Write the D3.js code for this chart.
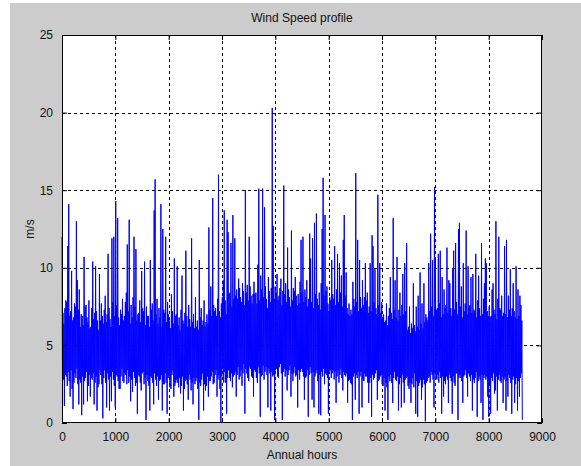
<!DOCTYPE html>
<html>
<head>
<meta charset="utf-8">
<script src="https://cdn.jsdelivr.net/npm/d3@7"></script>
<style>
  body { margin: 0; background: #fff; }
  text { font-family: "Liberation Sans", Arial, sans-serif; fill: #111; }
</style>
</head>
<body>
<script>
// wind record in 18-hour slots:
// highest and lowest reading inside each slot
var slotHours = 18;
var slotMax = [
  12.0, 7.1, 6.4, 7.4, 7.9, 7.8, 11.4, 14.1, 6.9, 7.2, 9.8, 6.6, 6.8, 7.7, 7.5, 13.0, 9.2, 7.3, 8.6, 6.2,
  7.0, 6.9, 6.3, 10.7, 7.5, 7.6, 6.8, 6.5, 7.9, 6.1, 6.2, 7.4, 10.4, 6.7, 7.1, 10.1, 7.2, 6.6, 6.0, 9.6,
  6.6, 7.7, 6.9, 6.4, 7.3, 8.2, 6.5, 7.0, 10.9, 7.4, 6.7, 6.2, 11.9, 7.8, 12.0, 6.9, 14.3, 7.6, 13.2, 6.8,
  6.3, 7.3, 7.0, 8.0, 6.6, 6.9, 7.8, 8.4, 11.5, 7.2, 13.1, 6.4, 7.6, 6.8, 8.1, 12.0, 7.5, 11.2, 6.6, 7.0,
  7.1, 7.9, 6.5, 9.8, 7.4, 7.2, 10.4, 6.3, 7.5, 6.9, 6.9, 6.2, 10.5, 7.3, 7.7, 6.6, 13.7, 15.7, 7.0, 8.0,
  6.4, 7.4, 6.8, 14.1, 6.2, 12.5, 7.3, 7.1, 12.0, 6.5, 7.8, 7.0, 6.6, 6.1, 8.3, 7.2, 6.4, 10.6, 6.9, 7.0,
  10.1, 6.3, 6.8, 6.0, 7.3, 9.5, 6.6, 6.4, 7.1, 11.1, 6.9, 6.2, 7.6, 6.7, 6.2, 11.9, 6.5, 7.0, 6.1, 8.1,
  6.2, 6.6, 6.0, 10.5, 6.8, 7.4, 6.3, 6.6, 7.9, 6.2, 6.5, 7.0, 6.4, 12.6, 7.3, 8.8, 6.9, 14.5, 7.6, 7.2,
  7.4, 6.9, 8.0, 16.0, 7.2, 6.8, 7.7, 8.1, 9.2, 13.7, 7.9, 7.0, 13.1, 12.3, 8.3, 8.4, 11.6, 7.5, 13.4, 8.0,
  11.9, 8.2, 8.6, 8.0, 9.3, 8.7, 8.1, 7.8, 9.0, 8.5, 7.6, 15.0, 8.4, 8.9, 7.9, 12.0, 8.8, 8.2, 7.7, 8.3,
  9.1, 8.3, 8.4, 7.7, 10.2, 15.1, 7.9, 9.5, 8.6, 15.1, 8.1, 13.9, 8.8, 8.0, 7.4, 9.4, 8.5, 7.8, 8.7, 20.3,
  12.7, 8.0, 8.8, 8.4, 9.6, 7.9, 8.2, 8.7, 9.3, 7.6, 8.5, 15.3, 8.3, 9.0, 7.8, 11.3, 8.6, 8.1, 7.5, 12.4,
  7.9, 8.7, 8.5, 9.4, 8.2, 7.6, 8.3, 7.7, 9.1, 11.8, 8.4, 12.0, 7.8, 8.6, 8.1, 9.2, 7.5, 8.0, 12.2, 10.6,
  7.8, 11.9, 7.4, 12.9, 8.3, 13.5, 8.0, 7.6, 8.4, 7.3, 9.0, 12.5, 15.8, 8.2, 13.4, 8.5, 8.8, 7.7, 7.2, 8.1,
  7.9, 10.5, 8.3, 8.0, 11.4, 7.6, 8.6, 10.9, 7.8, 10.3, 8.4, 9.5, 7.5, 11.8, 13.4, 8.2, 9.7, 7.4, 7.0, 7.7,
  6.9, 7.3, 7.0, 9.1, 8.0, 7.5, 16.1, 7.8, 11.8, 7.2, 10.5, 8.1, 7.4, 9.2, 7.6, 8.1, 10.3, 7.9, 8.4, 7.1,
  7.5, 10.3, 7.2, 12.1, 11.4, 7.8, 9.9, 7.4, 7.0, 14.7, 7.6, 10.3, 7.1, 7.8, 6.8, 7.0, 6.5, 6.6, 7.7, 6.3,
  6.9, 7.4, 9.4, 7.1, 6.7, 13.2, 7.3, 9.2, 6.8, 10.7, 6.6, 7.3, 8.4, 6.9, 7.6, 9.6, 7.0, 10.3, 7.2, 11.6,
  6.0, 6.2, 7.5, 5.8, 6.4, 6.1, 9.0, 6.3, 5.9, 7.5, 6.2, 8.2, 6.0, 9.7, 6.4, 7.7, 6.1, 9.0, 6.5, 7.0,
  6.8, 6.6, 10.3, 7.2, 12.2, 7.5, 10.5, 6.9, 15.2, 10.5, 7.3, 7.4, 10.9, 7.7, 11.1, 6.8, 9.4, 7.0, 8.6, 7.4,
  7.6, 11.3, 7.1, 9.2, 9.0, 7.4, 6.9, 9.9, 11.1, 7.3, 11.6, 7.8, 7.0, 12.5, 12.9, 7.5, 8.8, 6.8, 10.3, 7.2,
  7.7, 12.4, 7.0, 10.1, 7.5, 7.6, 9.4, 7.1, 9.6, 7.3, 7.2, 10.9, 6.8, 7.9, 9.5, 7.4, 6.9, 11.6, 7.0, 8.0,
  9.0, 10.6, 10.3, 7.2, 6.9, 7.5, 6.8, 6.9, 8.6, 9.0, 7.3, 7.0, 13.0, 6.7, 8.0, 12.0, 7.4, 7.3, 8.2, 6.9,
  7.1, 11.4, 7.0, 11.8, 6.8, 8.2, 7.3, 9.9, 6.9, 7.4, 9.0, 7.2, 6.8, 10.1, 6.7, 8.6, 6.9, 8.2, 7.6, 6.6
];
var slotMin = [
  2.9, 2.8, 1.1, 3.1, 3.0, 2.4, 3.3, 2.7, 1.7, 3.4, 2.2, 0.9, 2.6, 3.2, 2.9, 3.5, 2.5, 1.2, 2.8, 2.6,
  0.5, 3.0, 1.2, 2.7, 2.9, 3.3, 1.4, 2.4, 3.1, 1.7, 2.9, 2.8, 3.2, 1.2, 2.6, 3.0, 0.8, 2.3, 2.5, 3.4,
  3.1, 2.5, 0.3, 2.9, 3.4, 2.6, 1.0, 3.2, 2.8, 0.8, 3.0, 1.4, 3.3, 2.8, 2.4, 1.0, 3.1, 3.0, 2.7, 2.2,
  2.2, 3.0, 3.5, 2.7, 2.6, 3.2, 3.1, 2.5, 3.4, 2.6, 3.0, 1.4, 2.8, 2.0, 3.3, 2.9, 2.4, 2.6, 0.6, 3.1,
  3.0, 2.6, 2.1, 3.2, 3.3, 2.5, 2.9, 0.2, 3.1, 2.7, 2.4, 0.8, 3.0, 2.9, 2.6, 1.2, 3.2, 2.8, 2.4, 3.0,
  1.5, 2.7, 2.8, 3.1, 0.8, 2.5, 2.5, 3.2, 2.6, 0.6, 2.9, 3.0, 2.3, 2.2, 3.1, 3.4, 1.7, 2.4, 2.6, 2.8,
  2.6, 2.3, 2.9, 1.9, 2.4, 3.0, 0.8, 2.2, 2.7, 2.8, 2.5, 1.5, 3.1, 2.8, 2.1, 2.6, 1.2, 2.9, 2.5, 2.7,
  2.9, 2.2, 0.2, 2.6, 2.4, 2.8, 3.2, 0.8, 2.5, 2.1, 2.4, 3.0, 1.7, 2.7, 2.7, 3.0, 3.3, 2.5, 2.6, 3.1,
  3.4, 1.7, 2.8, 3.1, 2.2, 0.0, 3.0, 3.5, 2.6, 3.3, 2.6, 0.6, 2.9, 3.4, 2.9, 2.7, 3.2, 2.3, 3.0, 3.1,
  3.3, 1.7, 3.1, 3.6, 2.8, 3.0, 3.4, 2.4, 3.2, 3.8, 0.6, 3.5, 3.2, 2.9, 2.7, 3.6, 3.5, 3.0, 2.9, 1.7,
  3.4, 3.3, 2.9, 2.6, 3.6, 3.2, 0.4, 3.0, 3.1, 3.7, 2.8, 3.3, 3.6, 3.1, 1.0, 3.5, 3.2, 0.8, 3.3, 3.0,
  3.1, 0.2, 3.4, 3.5, 3.0, 2.9, 3.6, 3.8, 3.2, 0.2, 3.3, 3.5, 3.0, 3.4, 2.1, 3.1, 3.4, 3.7, 1.7, 3.2,
  2.7, 3.2, 3.6, 3.0, 3.1, 1.0, 3.4, 2.8, 3.3, 3.5, 3.3, 3.0, 1.5, 2.9, 3.0, 3.4, 0.4, 3.1, 3.6, 3.2,
  1.5, 3.3, 1.0, 3.0, 3.2, 3.4, 2.7, 0.6, 3.1, 0.5, 3.3, 3.0, 3.5, 2.5, 3.2, 3.1, 2.9, 0.6, 3.3, 3.4,
  2.9, 3.2, 3.4, 2.8, 3.3, 1.3, 3.0, 3.4, 2.6, 3.1, 3.5, 2.9, 2.1, 3.3, 3.1, 3.0, 3.2, 1.3, 2.7, 2.8,
  2.6, 2.5, 0.2, 3.0, 3.2, 1.5, 3.1, 2.9, 3.3, 0.6, 3.0, 3.3, 1.0, 2.8, 2.7, 3.2, 3.0, 3.0, 2.6, 1.3,
  2.6, 2.9, 0.4, 3.1, 2.8, 2.9, 3.2, 3.4, 1.5, 2.7, 2.8, 3.0, 3.1, 2.5, 2.4, 2.9, 0.8, 2.6, 2.3, 0.2,
  3.0, 2.7, 3.1, 2.6, 1.3, 2.9, 3.3, 2.8, 2.7, 3.0, 0.8, 2.5, 2.9, 1.0, 3.1, 2.6, 1.3, 2.8, 2.9, 3.0,
  2.4, 2.2, 2.6, 1.3, 2.5, 2.9, 2.3, 3.2, 0.6, 2.7, 0.4, 2.4, 2.6, 2.8, 1.5, 2.3, 2.8, 2.5, 0.1, 2.6,
  2.7, 2.9, 3.0, 2.6, 3.3, 3.1, 2.8, 1.0, 3.2, 2.9, 2.8, 3.1, 2.6, 3.3, 2.9, 0.6, 3.0, 1.7, 2.7, 2.5,
  3.0, 2.8, 1.3, 3.1, 2.9, 2.7, 0.6, 3.0, 2.6, 2.4, 3.2, 3.2, 0.2, 2.9, 3.1, 2.9, 2.7, 1.3, 3.0, 3.1,
  3.4, 2.9, 1.7, 3.2, 3.0, 2.7, 3.1, 0.8, 2.8, 2.6, 2.9, 3.3, 0.4, 2.7, 3.0, 2.8, 1.3, 3.1, 0.2, 2.9,
  3.1, 2.8, 3.0, 1.7, 0.4, 2.6, 0.6, 2.9, 2.7, 3.2, 1.9, 2.1, 3.0, 0.8, 2.8, 3.1, 2.7, 2.6, 3.0, 1.3,
  2.8, 3.0, 0.8, 2.7, 1.7, 3.1, 2.9, 2.6, 0.6, 2.8, 3.0, 1.3, 2.5, 2.9, 0.8, 2.7, 1.7, 2.9, 3.2, 0.2
];
var xTicks = [0, 1000, 2000, 3000, 4000, 5000, 6000, 7000, 8000, 9000];
var yTicks = [0, 5, 10, 15, 20, 25];
var titleText = "Wind Speed profile";
var xLabelText = "Annual hours";
var yLabelText = "m/s";

// the trace: high then low of every slot, half a slot apart
var profile = [];
slotMax.forEach(function(v, k) {
    profile.push({ hour: k * slotHours, speed: v });
    profile.push({ hour: k * slotHours + slotHours / 2, speed: slotMin[k] });
});

var width = 581,
    height = 466,
    margin = { left: 62, right: 39, top: 35, bottom: 43 },
    drawWidth = width - margin.left - margin.right,
    drawHeight = height - margin.top - margin.bottom;

var xScale = d3.scaleLinear().domain([0, 9000]).range([0, drawWidth]);
var yScale = d3.scaleLinear().domain([0, 25]).range([drawHeight, 0]);

var root = d3.select("body").append("svg")
    .attr("width", width)
    .attr("height", height);

// figure background (matlab grey)
root.append("rect")
    .attr("x", 10).attr("y", 3)
    .attr("width", width - 10).attr("height", height - 3)
    .attr("fill", "#cccccc");

var svg = root.append("g")
    .attr("transform", "translate(" + margin.left + "," + margin.top + ")");

svg.append("rect")
    .attr("width", drawWidth)
    .attr("height", drawHeight)
    .attr("fill", "#ffffff");

// dotted grid
svg.append("g").selectAll("line.gx")
    .data(xTicks.slice(1, -1))
    .enter().append("line")
    .attr("x1", function(d) { return Math.round(xScale(d)) + 0.5; })
    .attr("x2", function(d) { return Math.round(xScale(d)) + 0.5; })
    .attr("y1", 0).attr("y2", drawHeight)
    .attr("stroke", "#000").attr("stroke-dasharray", "3,3");

svg.append("g").selectAll("line.gy")
    .data(yTicks.slice(1, -1))
    .enter().append("line")
    .attr("y1", function(d) { return Math.round(yScale(d)) + 0.5; })
    .attr("y2", function(d) { return Math.round(yScale(d)) + 0.5; })
    .attr("x1", 0).attr("x2", drawWidth)
    .attr("stroke", "#000").attr("stroke-dasharray", "3,3");

var line = d3.line()
    .x(function(d) { return xScale(d.hour); })
    .y(function(d) { return yScale(d.speed); });

svg.append("path")
    .datum(profile)
    .attr("d", line)
    .attr("fill", "none")
    .attr("stroke", "#0000ff")
    .attr("stroke-width", 1)
    .attr("stroke-linejoin", "miter")
    .attr("stroke-miterlimit", 1);

// axes, ticks pointing inwards like matlab
var fmt = d3.format("d");
var xAxis = svg.append("g")
    .attr("transform", "translate(0," + drawHeight + ")")
    .call(d3.axisBottom(xScale).tickValues(xTicks).tickFormat(fmt).tickSizeInner(-5).tickSizeOuter(0).tickPadding(9));
var xAxisTop = svg.append("g")
    .call(d3.axisTop(xScale).tickValues(xTicks).tickSizeInner(-5).tickSizeOuter(0).tickFormat(""));
var yAxis = svg.append("g")
    .call(d3.axisLeft(yScale).tickValues(yTicks).tickFormat(fmt).tickSizeInner(-5).tickSizeOuter(0).tickPadding(9));
var yAxisRight = svg.append("g")
    .attr("transform", "translate(" + drawWidth + ",0)")
    .call(d3.axisRight(yScale).tickValues(yTicks).tickSizeInner(-5).tickSizeOuter(0).tickFormat(""));

[xAxis, xAxisTop, yAxis, yAxisRight].forEach(function(a) {
    a.select(".domain").remove();
    a.selectAll("line").attr("stroke", "#000");
    a.selectAll("text")
        .attr("font-size", 12)
        .attr("font-family", "Liberation Sans, Arial, sans-serif")
        .attr("fill", "#111");
});

svg.append("rect")
    .attr("x", 0.5).attr("y", 0.5)
    .attr("width", drawWidth - 1).attr("height", drawHeight - 1)
    .attr("fill", "none")
    .attr("stroke", "#000");

// labels
root.append("text")
    .attr("x", margin.left + drawWidth / 2)
    .attr("y", 22)
    .attr("text-anchor", "middle")
    .attr("font-size", 12)
    .text(titleText);

root.append("text")
    .attr("x", margin.left + drawWidth / 2)
    .attr("y", 459)
    .attr("text-anchor", "middle")
    .attr("font-size", 12)
    .text(xLabelText);

root.append("text")
    .attr("transform", "translate(34," + (margin.top + drawHeight / 2) + ") rotate(-90)")
    .attr("text-anchor", "middle")
    .attr("font-size", 12)
    .text(yLabelText);
</script>
</body>
</html>
